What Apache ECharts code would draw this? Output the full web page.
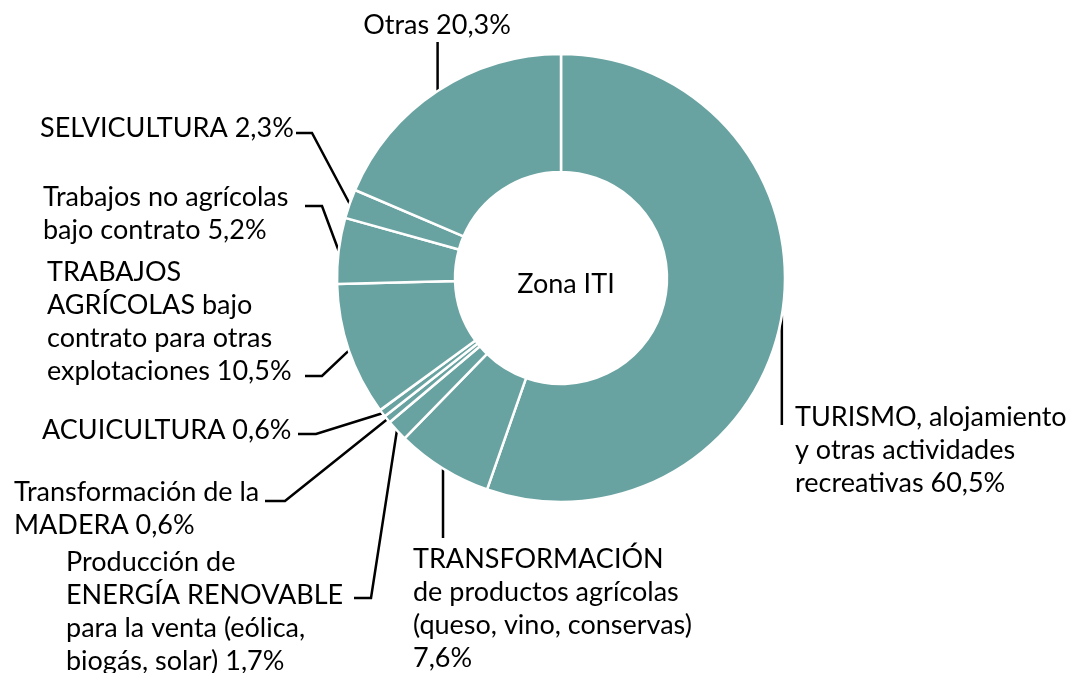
<!DOCTYPE html>
<html>
<head>
<meta charset="utf-8">
<script src="https://cdn.jsdelivr.net/npm/echarts@6/dist/echarts.min.js"></script>
<style>
  html, body { margin: 0; background: #fff; }
  #main { width: 1072px; height: 673px; }
</style>
</head>
<body>
<div id="main"></div>
<script>
// categorias y valores (%)
var categories = [
  'TURISMO, alojamiento\ny otras actividades\nrecreativas',
  'TRANSFORMACIÓN\nde productos agrícolas\n(queso, vino, conservas)',
  'Producción de\nENERGÍA RENOVABLE\npara la venta (eólica,\nbiogás, solar)',
  'Transformación de la\nMADERA',
  'ACUICULTURA',
  'TRABAJOS\nAGRÍCOLAS bajo\ncontrato para otras\nexplotaciones',
  'Trabajos no agrícolas\nbajo contrato',
  'SELVICULTURA',
  'Otras'
];
var values = [60.5, 7.6, 1.7, 0.6, 0.6, 10.5, 5.2, 2.3, 20.3];

// posicion de las etiquetas y lineas guia
var labelPos = [
  { x: 795, y: 450, align: 'left', sep: ' ', down: 425 },
  { x: 413, y: 609, align: 'left', sep: '\n', down: 538 },
  { x: 66, y: 612, align: 'left', sep: ' ', elbow: [371, 598], end: [354, 598] },
  { x: 14, y: 509, align: 'left', sep: ' ', elbow: [285, 501], end: [265, 501] },
  { x: 42, y: 430, align: 'left', sep: ' ', elbow: [316, 434], end: [298, 434] },
  { x: 47, y: 322, align: 'left', sep: ' ', elbow: [322, 376], end: [305, 376] },
  { x: 43, y: 214, align: 'left', sep: ' ', elbow: [322, 206], end: [305, 206] },
  { x: 40, y: 128, align: 'left', sep: ' ', elbow: [312, 133], end: [296, 133] },
  { x: 437, y: 25, align: 'center', sep: ' ', down: 42 }
];

function pct(v) {
  return v.toFixed(1).replace('.', ',') + '%';
}

var chart = echarts.init(document.getElementById('main'));

var data = categories.map(function (c, i) {
  return { name: c, value: values[i] };
});

chart.setOption({
  animation: false,
  color: ['#69a3a1'],
  title: {
    text: 'Zona ITI',
    left: 561,
    top: 279,
    textAlign: 'center',
    textVerticalAlign: 'middle',
    textStyle: {
      fontFamily: 'Lato',
      fontSize: 27,
      fontWeight: 'normal',
      color: '#000'
    }
  },
  series: [
    {
      type: 'pie',
      center: [561, 278],
      radius: [106, 224],
      startAngle: 90,
      avoidLabelOverlap: false,
      emphasis: { disabled: true },
      itemStyle: {
        color: '#69a3a1',
        borderColor: '#fff',
        borderWidth: 2.5
      },
      label: {
        show: true,
        fontFamily: 'Lato',
        fontSize: 27,
        lineHeight: 33,
        color: '#000',
        formatter: function (p) {
          return p.name + labelPos[p.dataIndex].sep + pct(p.value);
        }
      },
      labelLine: {
        show: true,
        lineStyle: { color: '#000', width: 2.5 }
      },
      labelLayout: function (params) {
        var p = labelPos[params.dataIndex];
        var p0 = params.labelLinePoints[0];
        var pts = [p0];
        if (p.down != null) {
          pts.push([p0[0], p.down]);
        } else {
          pts.push(p.elbow, p.end);
        }
        return {
          x: p.x,
          y: p.y,
          align: p.align,
          verticalAlign: 'middle',
          labelLinePoints: pts
        };
      },
      data: data
    }
  ]
});
</script>
</body>
</html>
